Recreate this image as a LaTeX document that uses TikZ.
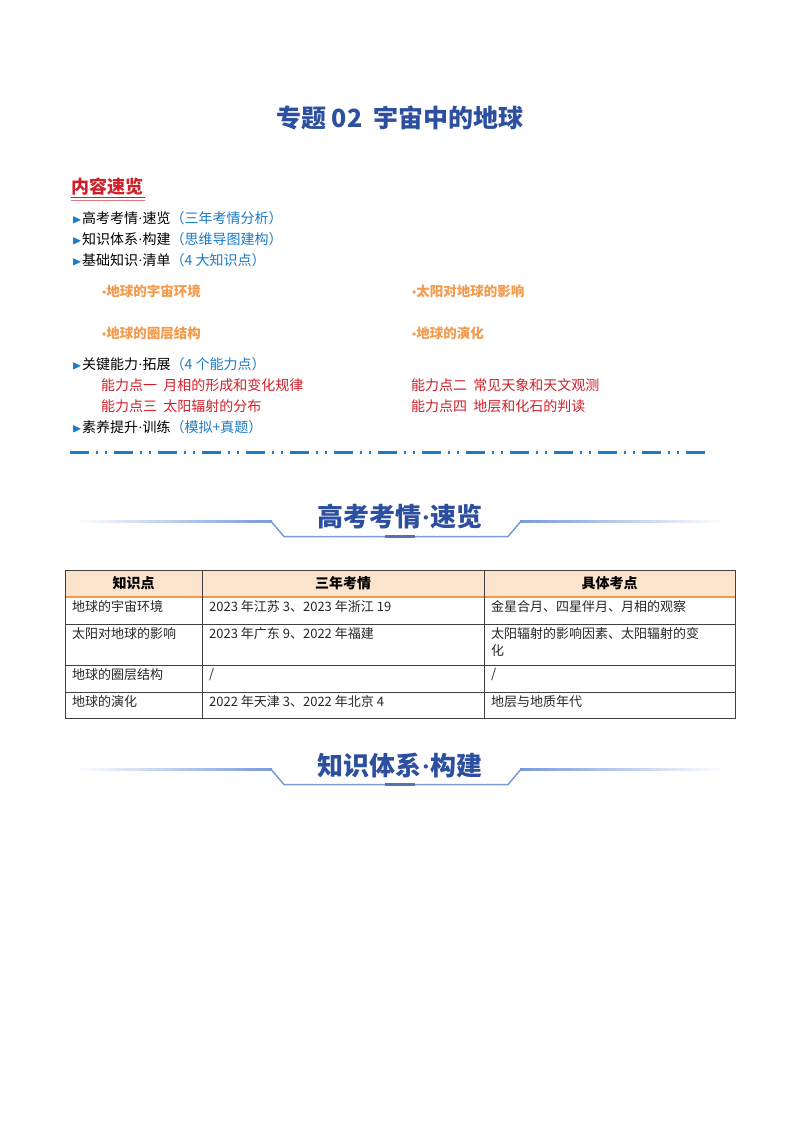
\documentclass[tikz,border=0pt]{standalone}
\usepackage{fontspec}
\usepackage{amssymb}
\setmainfont{Liberation Serif}
\newfontfamily\cjk{Noto Sans CJK SC}
\usetikzlibrary{fadings}
\definecolor{tblue}{HTML}{2D4FA0}
\definecolor{lblue}{HTML}{1A7BC8}
\definecolor{ored}{HTML}{D0202A}
\definecolor{orng}{HTML}{F39A4C}
\definecolor{hdr}{HTML}{FCE3CB}
\definecolor{bline}{HTML}{7A9BD8}
\tikzset{
  lbl/.style={anchor=west,inner sep=0pt,font=\cjk\fontsize{14}{16}\selectfont},
  redl/.style={lbl,text=ored},
  orb/.style={anchor=west,inner sep=0pt,text=orng,font=\cjk\bfseries\fontsize{13.5}{15}\selectfont},
  cell/.style={anchor=north west,inner sep=0pt,font=\cjk\fontsize{13}{16}\selectfont,text=black!85},
  hcell/.style={inner sep=0pt,font=\cjk\bfseries\fontsize{14}{16}\selectfont},
  bann/.style={inner sep=0pt,text=tblue,font=\cjk\bfseries\fontsize{26}{28}\selectfont},
}
\newcommand{\tri}{\textcolor{lblue}{\scalebox{0.9}{$\blacktriangleright$}}}
\newcommand{\md}{{\rmfamily\textperiodcentered}}
\newcommand{\bul}{{\rmfamily\large\textbullet}}
\begin{document}
\begin{tikzpicture}[x=1pt,y=-1pt]
\useasboundingbox (0,0) rectangle (800,1132);
\fill[white] (0,0) rectangle (800,1132);
\node[inner sep=0pt,text=tblue,font=\cjk\bfseries\fontsize{25}{28}\selectfont] (title) at (400,118) {专题 02\ \ 宇宙中的地球};
\node[anchor=west,inner sep=0pt,text=ored,font=\cjk\bfseries\fontsize{18}{20}\selectfont] (nr) at (71,187) {内容速览};
\draw[ored,line width=1pt] (nr.south west)++(0,2) -- ++(74,0);
\draw[ored!60,line width=0.6pt] (nr.south west)++(0,4.5) -- ++(74,0);
\node[lbl] (l1) at (72,218) {\tri 高考考情\md 速览\textcolor{lblue}{（三年考情分析）}};
\node[lbl] (l2) at (72,239) {\tri 知识体系\md 构建\textcolor{lblue}{（思维导图建构）}};
\node[lbl] (l3) at (72,260) {\tri 基础知识\md 清单\textcolor{lblue}{（4 大知识点）}};
\node[orb] (o1) at (102,291) {\bul 地球的宇宙环境};
\node[orb] (o2) at (412,291) {\bul 太阳对地球的影响};
\node[orb] (o3) at (102,333) {\bul 地球的圈层结构};
\node[orb] (o4) at (412,333) {\bul 地球的演化};
\node[lbl] (l4) at (72,364) {\tri 关键能力\md 拓展\textcolor{lblue}{（4 个能力点）}};
\node[redl] (r1) at (101,385) {能力点一\ \ 月相的形成和变化规律};
\node[redl] (r2) at (411,385) {能力点二\ \ 常见天象和天文观测};
\node[redl] (r3) at (101,406) {能力点三\ \ 太阳辐射的分布};
\node[redl] (r4) at (411,406) {能力点四\ \ 地层和化石的判读};
\node[lbl] (l5) at (72,427) {\tri 素养提升\md 训练\textcolor{lblue}{（模拟+真题）}};
% dash-dot line
\foreach \i in {0,...,14} {
  \pgfmathsetmacro\xx{70+\i*44}
  \fill[lblue] (\xx,450.5) rectangle ++(18.5,3);
  \ifnum\i<14
  \fill[lblue] (\xx+25.5,450.5) rectangle ++(2.5,3);
  \fill[lblue] (\xx+34.5,450.5) rectangle ++(2.5,3);
  \fi
}
% banners
\foreach \yy/\tt/\nm in {517/高考考情{\md}速览/b1,765/知识体系{\md}构建/b2} {
  \node[bann] (\nm) at (400,\yy) {\tt};
  \fill[left color=white,right color=bline] (75,\yy+3.5) rectangle (272,\yy+5);
  \fill[right color=white,left color=bline] (520,\yy+3.5) rectangle (725,\yy+5);
  \draw[bline,line width=1.5pt] (271,\yy+4.3) -- (284,\yy+19.5) -- (508,\yy+19.5) -- (521,\yy+4.3);
  \fill[tblue!80] (385,\yy+18) rectangle (415,\yy+21);
}
% table
\fill[hdr] (65,570) rectangle (735,597);
\draw[orng,line width=1.2pt] (65,597) -- (735,597);
\draw[black!75,line width=0.7pt] (65,570) rectangle (735,718);
\foreach \y in {624,665,692} \draw[black!75,line width=0.7pt] (65,\y) -- (735,\y);
\foreach \x in {202,484} \draw[black!75,line width=0.7pt] (\x,570) -- (\x,718);
\node[hcell] (h1) at (133.5,583) {知识点};
\node[hcell] (h2) at (343,583) {三年考情};
\node[hcell] (h3) at (609.5,583) {具体考点};
\node[cell] (c11) at (72,600) {地球的宇宙环境};
\node[cell] (c12) at (209,600) {2023 年江苏 3、2023 年浙江 19};
\node[cell] (c13) at (491,600) {金星合月、四星伴月、月相的观察};
\node[cell] (c21) at (72,627) {太阳对地球的影响};
\node[cell] (c22) at (209,627) {2023 年广东 9、2022 年福建};
\node[cell] (c23) at (491,627) {太阳辐射的影响因素、太阳辐射的变};
\node[cell] (c23b) at (491,644) {化};
\node[cell] (c31) at (72,668) {地球的圈层结构};
\node[cell] (c32) at (209,668) {/};
\node[cell] (c33) at (491,668) {/};
\node[cell] (c41) at (72,695) {地球的演化};
\node[cell] (c42) at (209,695) {2022 年天津 3、2022 年北京 4};
\node[cell] (c43) at (491,695) {地层与地质年代};
\end{tikzpicture}
\end{document}
